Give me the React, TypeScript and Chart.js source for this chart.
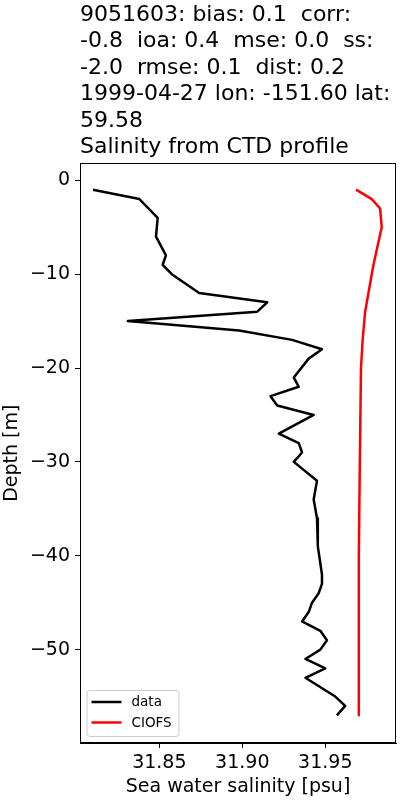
import React, { useEffect, useRef } from "react";
import { Chart, registerables } from "chart.js";

Chart.register(...registerables);

const TITLE_LINES = [
  "9051603: bias: 0.1  corr:",
  "-0.8  ioa: 0.4  mse: 0.0  ss:",
  "-2.0  rmse: 0.1  dist: 0.2",
  "1999-04-27 lon: -151.60 lat:",
  "59.58",
  "Salinity from CTD profile",
];

const SERIES_LABELS = ["data", "CIOFS"];
const SERIES_COLORS = ["#000000", "#ff0000"];

const DATA_DEPTH = [
  -1, -2, -4, -6, -8, -9, -10, -12, -13, -14, -15, -16, -17, -18, -19, -21, -22,
  -23, -24, -25, -27, -28, -29, -30, -32, -34, -36, -39, -42, -43, -44, -45, -46,
  -47, -48, -49, -50, -51, -52, -53, -55, -56, -57,
];
const DATA_SAL = [
  31.81, 31.838, 31.849, 31.848, 31.854, 31.852, 31.8575, 31.874, 31.915, 31.909,
  31.831, 31.898, 31.93, 31.948, 31.94, 31.931, 31.934, 31.917, 31.921, 31.943,
  31.922, 31.934, 31.936, 31.931, 31.945, 31.943, 31.945, 31.9455, 31.948, 31.948,
  31.946, 31.942, 31.94, 31.936, 31.947, 31.951, 31.947, 31.938, 31.95, 31.938,
  31.956, 31.962, 31.957,
];

const MODEL_DEPTH = [-1, -2, -3, -5, -9, -14, -17, -20, -30, -40, -50, -57];
const MODEL_SAL = [
  31.9685, 31.978, 31.983, 31.984, 31.979, 31.974, 31.9725, 31.9715, 31.9708,
  31.9702, 31.9702, 31.9702,
];

const X_TICKS = [31.85, 31.9, 31.95];
const Y_TICKS = [0, -10, -20, -30, -40, -50];
const X_RANGE = [31.8022, 31.9926];
const Y_RANGE = [-59.95, 1.8];

const X_LABEL = "Sea water salinity [psu]";
const Y_LABEL = "Depth [m]";

const FONT = "'DejaVu Sans', sans-serif";

export default function App() {
  const ref = useRef<HTMLCanvasElement | null>(null);

  useEffect(() => {
    if (!ref.current) return;

    const framePlugin = {
      id: "frame",
      afterDraw(chart: any) {
        const { ctx, chartArea: a } = chart;
        ctx.save();
        ctx.strokeStyle = "#000";
        ctx.lineWidth = 1;
        const l = Math.round(a.left) + 0.5;
        const t = Math.round(a.top) + 0.5;
        const r = Math.round(a.right) - 0.5;
        const b = Math.round(a.bottom) - 0.5;
        ctx.strokeRect(l, t, r - l, b - t);

        // legend (lower left inside axes)
        const bx = a.left + 6.5;
        const by = a.bottom - 53;
        const bw = 92;
        const bh = 46;
        ctx.beginPath();
        (ctx as any).roundRect(bx + 0.5, by + 0.5, bw, bh, 3);
        ctx.fillStyle = "rgba(255,255,255,0.8)";
        ctx.fill();
        ctx.strokeStyle = "#cccccc";
        ctx.lineWidth = 1;
        ctx.stroke();
        ctx.font = `13.5px ${FONT}`;
        ctx.textBaseline = "middle";
        ctx.textAlign = "left";
        chart.data.datasets.forEach((ds: any, i: number) => {
          const y = by + 12 + i * 20.5;
          ctx.beginPath();
          ctx.moveTo(bx + 5, y);
          ctx.lineTo(bx + 35, y);
          ctx.strokeStyle = ds.borderColor;
          ctx.lineWidth = 2.5;
          ctx.stroke();
          ctx.fillStyle = "#000";
          ctx.fillText(ds.label, bx + 45, y + 0.5);
        });
        ctx.restore();
      },
    };

    const chart = new Chart(ref.current, {
      type: "scatter",
      data: {
        datasets: [
          {
            label: SERIES_LABELS[0],
            data: DATA_DEPTH.map((d, i) => ({ x: DATA_SAL[i], y: d })),
            borderColor: SERIES_COLORS[0],
            backgroundColor: SERIES_COLORS[0],
            showLine: true,
            pointRadius: 0,
            borderWidth: 2.5,
            borderJoinStyle: "round",
          },
          {
            label: SERIES_LABELS[1],
            data: MODEL_DEPTH.map((d, i) => ({ x: MODEL_SAL[i], y: d })),
            borderColor: SERIES_COLORS[1],
            backgroundColor: SERIES_COLORS[1],
            showLine: true,
            pointRadius: 0,
            borderWidth: 2.5,
            borderJoinStyle: "round",
          },
        ],
      },
      options: {
        animation: false,
        responsive: true,
        maintainAspectRatio: false,
        layout: { padding: { top: 0, right: 4, left: 0, bottom: 0 } },
        plugins: {
          legend: { display: false },
          tooltip: { enabled: false },
          title: {
            display: true,
            text: TITLE_LINES,
            align: "start",
            fullSize: false,
            color: "#000",
            font: { family: FONT, size: 22, weight: "normal", lineHeight: 1.2 },
            padding: { top: 2, bottom: 3 },
          },
        },
        scales: {
          x: {
            type: "linear",
            min: X_RANGE[0],
            max: X_RANGE[1],
            afterBuildTicks: (s: any) => {
              s.ticks = X_TICKS.map((v) => ({ value: v }));
            },
            afterFit: (s: any) => {
              s.height = 57;
            },
            ticks: {
              color: "#000",
              font: { family: FONT, size: 19 },
              padding: 4,
              maxRotation: 0,
              autoSkip: false,
              callback: (v: any) => Number(v).toFixed(2),
            },
            grid: {
              display: true,
              drawOnChartArea: false,
              drawTicks: true,
              tickLength: 5,
              tickColor: "#000",
            },
            border: { display: true, color: "#000" },
            title: {
              display: true,
              text: X_LABEL,
              color: "#000",
              font: { family: FONT, size: 19 },
              padding: { top: 0, bottom: 2 },
            },
          },
          y: {
            type: "linear",
            min: Y_RANGE[0],
            max: Y_RANGE[1],
            afterBuildTicks: (s: any) => {
              s.ticks = Y_TICKS.map((v) => ({ value: v }));
            },
            afterFit: (s: any) => {
              s.width = 80;
            },
            ticks: {
              color: "#000",
              font: { family: FONT, size: 19 },
              padding: 5,
              autoSkip: false,
              callback: (v: any) =>
                Number(v) < 0 ? "\u2212" + Math.abs(Number(v)) : String(v),
            },
            grid: {
              display: true,
              drawOnChartArea: false,
              drawTicks: true,
              tickLength: 5,
              tickColor: "#000",
            },
            border: { display: true, color: "#000" },
            title: {
              display: true,
              text: Y_LABEL,
              color: "#000",
              font: { family: FONT, size: 19 },
              padding: { top: 1, bottom: 0 },
            },
          },
        },
      },
      plugins: [framePlugin],
    } as any);

    return () => chart.destroy();
  }, []);

  return (
    <div
      style={{
        position: "absolute",
        left: 0,
        top: 0,
        width: 400,
        height: 800,
        background: "#fff",
      }}
    >
      <canvas ref={ref} />
    </div>
  );
}
